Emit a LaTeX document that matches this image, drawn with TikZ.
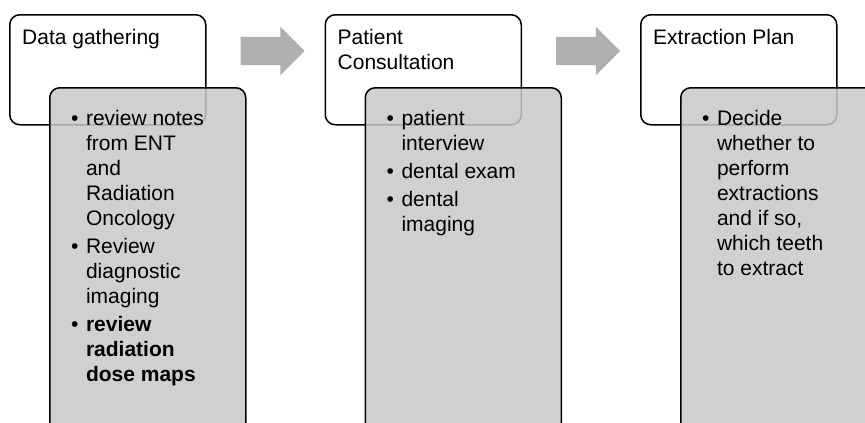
\documentclass[tikz,border=0pt]{standalone}
\usepackage{fontspec}
\setmainfont{Liberation Sans}
\usetikzlibrary{positioning,calc,shapes.arrows}
\definecolor{stepgray}{HTML}{C8C8C8}
\definecolor{arrowgray}{HTML}{AFAFAF}
\newcommand{\stagetitle}[1]{\begin{tabular}[t]{@{}l@{}}#1\end{tabular}}
\newcommand{\bulletlist}[1]{\begin{tabular}[t]{@{}l@{\hspace{7.5pt}}l@{}}#1\end{tabular}}

\begin{document}
\begin{tikzpicture}[x=1pt, y=-1pt, font=\fontsize{21}{25}\selectfont,
  stage/.style={draw=black, line width=1.5pt, rounded corners=10pt, fill=white, minimum width=196pt, minimum height=110pt, inner sep=0pt, anchor=north west},
  detail/.style={draw=black, line width=1.5pt, rounded corners=10pt, fill=stepgray, fill opacity=0.85, minimum width=196pt, minimum height=345pt, inner sep=0pt, anchor=north west},
  title/.style={anchor=base west, inner sep=0pt},
  items/.style={anchor=base west, inner sep=0pt},
  flow/.style={single arrow, fill=arrowgray, minimum height=64pt, text height=28pt, text depth=0pt, single arrow head extend=10pt, single arrow head indent=0pt, inner sep=0pt}]
\clip (0,0) rectangle (865,423);
% the three stages
\node[stage] (s1) at (9,14) {};
\node[stage, right=118pt of s1] (s2) {};
\node[stage, right=118pt of s2] (s3) {};
\node[title] (t1) at ($(s1.north west)+(13,30)$) {\stagetitle{Data gathering}};
\node[title] (t2) at ($(s2.north west)+(13,30)$) {\stagetitle{Patient\\ Consultation}};
\node[title] (t3) at ($(s3.north west)+(13,30)$) {\stagetitle{Extraction Plan}};
% arrows between stages
\node[flow] (a1) at ($(s1.north east)!0.5!(s2.north west)+(0,37)$) {};
\node[flow] (a2) at ($(s2.north east)!0.5!(s3.north west)+(0,37)$) {};
% detail boxes
\node[detail] (d1) at ($(s1.north west)+(40,73)$) {};
\node[detail] (d2) at ($(s2.north west)+(40,73)$) {};
\node[detail] (d3) at ($(s3.north west)+(40,73)$) {};
\node[items] (l1) at ($(d1.north west)+(22,38)$) {\bulletlist{%
  \textbullet & review notes\\ & from ENT\\ & and\\ & Radiation\\ & Oncology\\[3pt]
  \textbullet & Review\\ & diagnostic\\ & imaging\\[3pt]
  \textbullet & \textbf{review}\\ & \textbf{radiation}\\ & \textbf{dose maps}}};
\node[items] (l2) at ($(d2.north west)+(22,38)$) {\bulletlist{%
  \textbullet & patient\\ & interview\\[3pt]
  \textbullet & dental exam\\[3pt]
  \textbullet & dental\\ & imaging}};
\node[items] (l3) at ($(d3.north west)+(22,38)$) {\bulletlist{%
  \textbullet & Decide\\ & whether to\\ & perform\\ & extractions\\ & and if so,\\ & which teeth\\ & to extract}};
\end{tikzpicture}
\end{document}
